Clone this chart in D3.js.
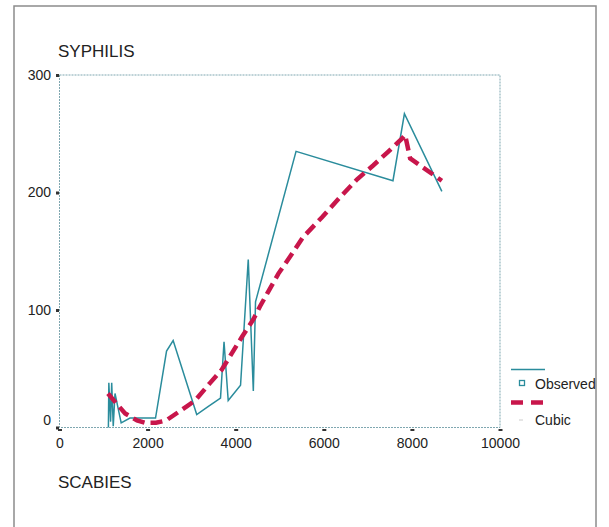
<!DOCTYPE html>
<html>
<head>
<meta charset="utf-8">
<script src="https://cdn.jsdelivr.net/npm/d3@7"></script>
<style>
  body { margin: 0; background: #fff; }
  svg { display: block; font-family: "Liberation Sans", Arial, Helvetica, sans-serif; }
</style>
</head>
<body>
<div id="chart"></div>
<script>
// observed series (x, count)
const obsX = [1110, 1120, 1160, 1185, 1220, 1260, 1400, 1600, 2180, 2430, 2580, 3115, 3380, 3655, 3735, 3830, 4110, 4285, 4400, 4450, 5370, 7570, 7830, 8680];
const obsY = [0, 38, 5, 38, 1, 29, 4, 8, 8, 65, 74, 11, 18, 25, 73, 23, 36, 143, 31, 107, 235, 210, 267, 201];

// cubic fit
const fitX = [1100, 1280, 1490, 1760, 1940, 2190, 2420, 2890, 3080, 3420, 3680, 4140, 4400, 4550, 4730, 4970, 5300, 5530, 5960, 6370, 6750, 7120, 7440, 7780, 7845, 7960, 8680];
const fitY = [29, 21, 12, 6, 4, 4, 6, 18, 23, 38, 49, 77, 92, 103, 115, 131, 149, 162, 179, 196, 211, 223, 234, 246, 249, 229, 210];

const xTicks = [0, 2000, 4000, 6000, 8000, 10000];
const yTicks = [0, 100, 200, 300];

const width = 609, height = 527;
const teal = "#2a8c9c", red = "#c8164b";

const svg = d3.select("#chart").append("svg")
    .attr("width", width)
    .attr("height", height);

svg.append("rect").attr("width", width).attr("height", height).attr("fill", "#fff");

// outer frame (runs off the bottom)
svg.append("rect")
    .attr("x", 14).attr("y", 6)
    .attr("width", 582).attr("height", 560)
    .attr("fill", "none")
    .attr("stroke", "#8c8c8c")
    .attr("stroke-width", 1.5);

const x = d3.scaleLinear().domain([0, 10000]).range([59.5, 500]);
const y = d3.scaleLinear().domain([0, 300]).range([427.5, 75]);

// titles
svg.append("text").attr("x", 58).attr("y", 57)
    .attr("font-size", 17).attr("fill", "#222").text("SYPHILIS");
svg.append("text").attr("x", 58).attr("y", 488)
    .attr("font-size", 17).attr("fill", "#222").text("SCABIES");

// dotted plot box
svg.append("rect")
    .attr("x", x(0)).attr("y", y(300))
    .attr("width", x(10000) - x(0)).attr("height", y(0) - y(300))
    .attr("fill", "none")
    .attr("stroke", "#7fa7b0")
    .attr("stroke-width", 1)
    .attr("stroke-dasharray", "2,1");

// axes
const yAxis = svg.append("g")
    .attr("transform", `translate(${x(0) - 0.5},0)`)
    .call(d3.axisLeft(y).tickValues(yTicks).tickSize(3).tickSizeOuter(0).tickPadding(5));
yAxis.select(".domain").remove();
yAxis.selectAll(".tick line").attr("stroke", "#333").attr("stroke-width", 3);
yAxis.selectAll(".tick text")
    .attr("font-size", 14).attr("fill", "#222")
    .attr("font-family", "Liberation Sans, Arial, sans-serif")
    .attr("dy", d => d === 0 ? "-0.2em" : "0.32em");

const xAxis = svg.append("g")
    .attr("transform", `translate(0,${y(0) + 1.5})`)
    .call(d3.axisBottom(x).tickValues(xTicks).tickFormat(d3.format("d"))
        .tickSize(2).tickSizeOuter(0).tickPadding(7));
xAxis.select(".domain").remove();
xAxis.selectAll(".tick line").attr("stroke", "#333").attr("stroke-width", 4);
xAxis.selectAll(".tick text")
    .attr("font-size", 14).attr("fill", "#222")
    .attr("font-family", "Liberation Sans, Arial, sans-serif");

// series
const obs = obsX.map((v, i) => [v, obsY[i]]);
const fit = fitX.map((v, i) => [v, fitY[i]]);
const line = d3.line().x(d => x(d[0])).y(d => y(d[1]));

svg.append("path")
    .datum(obs)
    .attr("d", line)
    .attr("fill", "none")
    .attr("stroke", teal)
    .attr("stroke-width", 1.5)
    .attr("stroke-linejoin", "miter");

svg.append("path")
    .datum(fit)
    .attr("d", line)
    .attr("fill", "none")
    .attr("stroke", red)
    .attr("stroke-width", 4.5)
    .attr("stroke-dasharray", "12,6");

// legend
const lg = svg.append("g").attr("transform", "translate(511,0)");
lg.append("line").attr("x1", 0).attr("x2", 34).attr("y1", 369.5).attr("y2", 369.5)
    .attr("stroke", teal).attr("stroke-width", 1.5);
lg.append("rect").attr("x", 8.5).attr("y", 380.5).attr("width", 5).attr("height", 5)
    .attr("fill", "none").attr("stroke", teal).attr("stroke-width", 1.3);
lg.append("text").attr("x", 24).attr("y", 389).attr("font-size", 14).attr("fill", "#222").text("Observed");
lg.append("line").attr("x1", 0).attr("x2", 34).attr("y1", 402.5).attr("y2", 402.5)
    .attr("stroke", red).attr("stroke-width", 4.5).attr("stroke-dasharray", "12,8");
lg.append("line").attr("x1", 8).attr("x2", 12).attr("y1", 420).attr("y2", 420)
    .attr("stroke", "#ccc").attr("stroke-width", 1);
lg.append("text").attr("x", 24).attr("y", 425).attr("font-size", 14).attr("fill", "#222").text("Cubic");
</script>
</body>
</html>
